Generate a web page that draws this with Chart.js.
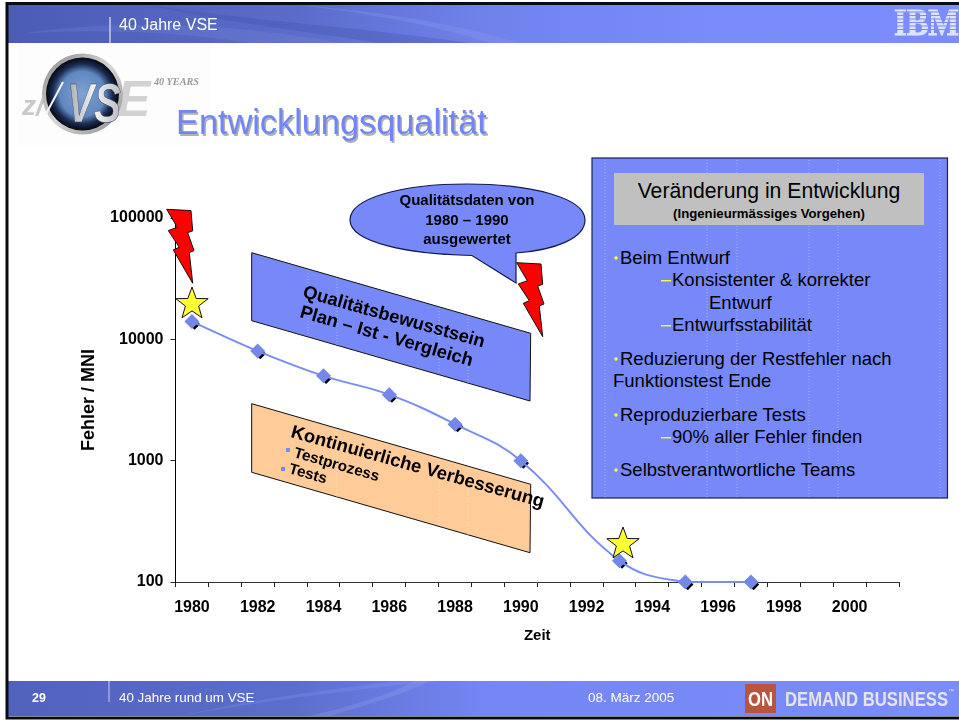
<!DOCTYPE html>
<html><head><meta charset="utf-8">
<style>
html,body{margin:0;padding:0;background:#fff;width:959px;height:721px;overflow:hidden}
#c{position:absolute;left:0;top:0;width:959px;height:721px}
#o{position:absolute;left:0;top:0}
text{font-family:"Liberation Sans",Arial,sans-serif}
</style>
<script src="https://cdn.jsdelivr.net/npm/chart.js@4"></script>
</head><body>
<canvas id="c" width="959" height="721"></canvas>
<svg id="o" width="959" height="721" viewBox="0 0 959 721" xmlns="http://www.w3.org/2000/svg">
<defs>
<linearGradient id="hb" x1="0" x2="1" y1="0" y2="0"><stop offset="0" stop-color="#4a5cb4"/><stop offset=".3" stop-color="#5a6cc8"/><stop offset=".5" stop-color="#6f82ec"/><stop offset=".75" stop-color="#7a8cfa"/><stop offset="1" stop-color="#7b8dfc"/></linearGradient>
<linearGradient id="fb" x1="0" x2="1" y1="0" y2="0"><stop offset="0" stop-color="#5062bc"/><stop offset=".3" stop-color="#5c6ecc"/><stop offset=".5" stop-color="#7386f2"/><stop offset="1" stop-color="#7b8dfc"/></linearGradient>
<radialGradient id="lg" cx=".5" cy=".5" r=".5"><stop offset="0" stop-color="#7fa3d4"/><stop offset=".62" stop-color="#5f88c0"/><stop offset=".82" stop-color="#1a2c50"/><stop offset="1" stop-color="#05080f"/></radialGradient>
<linearGradient id="ring" x1="0" x2="1" y1="0" y2="1"><stop offset="0" stop-color="#8a8a8a"/><stop offset=".5" stop-color="#d6d6d6"/><stop offset="1" stop-color="#8c8c8c"/></linearGradient>
<linearGradient id="vs" x1="0" x2="1" y1="0" y2="0"><stop offset="0" stop-color="#a4a7b0"/><stop offset=".5" stop-color="#f4f4f6"/><stop offset="1" stop-color="#b8bbc2"/></linearGradient>
<path id="bolt" d="M516.7 262.7L541 264L542.7 284.3L537.7 286L544 304L539.3 306L542.7 336.7L523.3 303.3L529.3 300.7L518.3 284L527.3 280.7Z"/>
<polygon id="star" points="0,-17 4.2,-5.5 16.2,-5.3 6.6,2 10,13.8 0,6.9 -10,13.8 -6.6,2 -16.2,-5.3 -4.2,-5.5"/>
</defs>

<!-- header band -->
<rect x="7" y="5" width="952" height="38" fill="url(#hb)"/>
<path d="M150 5C260 22 350 26 470 43L380 43C300 30 220 22 150 5Z" fill="#3f4fa4" opacity=".3"/>
<path d="M20 34C120 18 240 24 340 43L250 43C180 32 90 28 20 34Z" fill="#7f90e0" opacity=".22"/>
<path d="M300 5C380 12 450 22 520 43L490 43C430 24 370 14 300 5Z" fill="#8a9af0" opacity=".3"/>
<line x1="110" y1="17" x2="110" y2="43" stroke="#c8cdee" stroke-width="1.5"/>
<text x="119" y="30" font-size="16" fill="#fff">40 Jahre VSE</text>
<text x="894" y="34.5" font-size="37" font-weight="700" textLength="65" lengthAdjust="spacingAndGlyphs" style='font-family:"Liberation Serif",serif' fill="#dfe3fb" stroke="#dfe3fb" stroke-width=".9">IBM</text>
<g fill="#7b8dfc"><rect x="892" y="11.5" width="67" height="1"/><rect x="892" y="15" width="67" height="1"/><rect x="892" y="18.5" width="67" height="1"/><rect x="892" y="22" width="67" height="1"/><rect x="892" y="25.5" width="67" height="1"/><rect x="892" y="29" width="67" height="1"/></g>

<!-- logo -->
<rect x="17" y="43" width="193" height="102" fill="#fdfdfd"/>
<text x="22" y="115" font-size="28" font-style="italic" font-weight="700" fill="#c9c9c9">z/</text>
<text x="117" y="116" font-size="50" font-style="italic" font-weight="700" fill="#d2d2d2">E</text>
<circle cx="82.5" cy="94" r="40.5" fill="url(#ring)"/>
<circle cx="82.5" cy="94" r="36.5" fill="url(#lg)"/>
<text x="67" y="122" font-size="56" font-style="italic" font-weight="700" textLength="54" lengthAdjust="spacingAndGlyphs" fill="url(#vs)" stroke="#3a3f4c" stroke-width=".5">VS</text>
<line x1="46" y1="114" x2="63" y2="82" stroke="#f4f4f4" stroke-width="2"/>
<text x="154" y="85" font-size="9.5" font-style="italic" font-weight="700" fill="#9a9a9a" textLength="45" lengthAdjust="spacingAndGlyphs" style='font-family:"Liberation Serif",serif'>40 YEARS</text>

<!-- title -->
<text x="177.5" y="135.5" font-size="34.3" fill="#b0b0b0">Entwicklungsqualität</text>
<text x="176" y="134" font-size="34.3" fill="#7086f6">Entwicklungsqualität</text>

<!-- left bands -->
<polygon points="251.7,252.7 530.7,333.3 530,401 251.7,320.7" fill="#7788f8" stroke="#111" stroke-width="1"/>
<g stroke="#fff" stroke-opacity=".35" stroke-dasharray="1 2" stroke-width="1"><line x1="308" y1="270" x2="308" y2="336"/><line x1="337" y1="278" x2="337" y2="345"/><line x1="439" y1="308" x2="439" y2="374"/><line x1="468" y1="316" x2="468" y2="383"/></g>
<polygon points="251.7,403.7 530.7,484.3 530,552.7 251.7,472.3" fill="#ffcc99" stroke="#111" stroke-width="1"/>
<g stroke="#fff" stroke-opacity=".5" stroke-dasharray="1 2" stroke-width="1"><line x1="337" y1="430" x2="337" y2="497"/><line x1="439" y1="460" x2="439" y2="526"/><line x1="468" y1="468" x2="468" y2="535"/></g>

<g font-weight="700" fill="#000">
<text transform="translate(302,297) rotate(15.6)" font-size="18.3">Qualitätsbewusstsein</text>
<text transform="translate(299,317) rotate(16)" font-size="18.4">Plan – Ist - Vergleich</text>
<text transform="translate(290,437) rotate(15.6)" font-size="18.5">Kontinuierliche Verbesserung</text>
<text transform="translate(293,457) rotate(16)" font-size="15.3">Testprozess</text>
<text transform="translate(288,473) rotate(16)" font-size="15.3">Tests</text>
</g>
<rect x="286" y="448" width="4" height="4" fill="#7788f8"/>
<rect x="281" y="467" width="4" height="4" fill="#7788f8"/>

<!-- callout -->
<path d="M472 255.5C410 254 350 243 350 220C350 198 402 184 467 184C532 184 585 198 585 220C585 238 556 250 516 253L516 283Z" fill="#7788f8" stroke="#141a50" stroke-width="1.2"/>
<g font-weight="700" font-size="15" text-anchor="middle" fill="#000">
<text x="467" y="205">Qualitätsdaten von</text>
<text x="467" y="225">1980 – 1990</text>
<text x="467" y="244">ausgewertet</text>
</g>

<!-- bolts, stars -->
<use href="#bolt" fill="#ff0000" stroke="#111" stroke-width="1"/>
<use href="#bolt" transform="translate(-350,-53.4)" fill="#ff0000" stroke="#111" stroke-width="1"/>
<use href="#star" transform="translate(192,304)" fill="#ffff33" stroke="#111" stroke-width="1"/>
<use href="#star" transform="translate(623,544)" fill="#ffff33" stroke="#111" stroke-width="1"/>

<!-- right box -->
<rect x="592" y="158" width="355.5" height="340" fill="#7788f8" stroke="#1a2050" stroke-width="1.2"/>
<g stroke="#fff" stroke-opacity=".35" stroke-dasharray="1 2"><line x1="605" y1="160" x2="605" y2="497"/><line x1="707" y1="160" x2="707" y2="497"/><line x1="737" y1="160" x2="737" y2="497"/><line x1="809" y1="160" x2="809" y2="497"/><line x1="838" y1="160" x2="838" y2="497"/><line x1="940" y1="160" x2="940" y2="497"/></g>
<rect x="614" y="173" width="310" height="52" fill="#c0c0c0"/>
<text x="769" y="198" font-size="21.2" text-anchor="middle" fill="#000">Veränderung in Entwicklung</text>
<text x="769" y="218" font-size="13.2" font-weight="700" text-anchor="middle" fill="#000">(Ingenieurmässiges Vorgehen)</text>
<g font-size="18.5" fill="#000">
<text x="620" y="264">Beim Entwurf</text>
<text x="672" y="286">Konsistenter &amp; korrekter</text>
<text x="709" y="309">Entwurf</text>
<text x="672" y="331">Entwurfsstabilität</text>
<text x="620" y="365">Reduzierung der Restfehler nach</text>
<text x="613" y="387">Funktionstest Ende</text>
<text x="620" y="421">Reproduzierbare Tests</text>
<text x="672" y="443">90% aller Fehler finden</text>
<text x="620" y="476">Selbstverantwortliche Teams</text>
</g>
<g fill="#ffff33"><circle cx="616" cy="258" r="1.7"/><circle cx="616" cy="359" r="1.7"/><circle cx="616" cy="415" r="1.7"/><circle cx="616" cy="470" r="1.7"/><rect x="661" y="280" width="10" height="1.4"/><rect x="661" y="325" width="10" height="1.4"/><rect x="661" y="437" width="10" height="1.4"/></g>

<!-- footer -->
<rect x="7" y="681" width="952" height="35" fill="url(#fb)"/>
<path d="M180 716C270 700 350 690 440 681L400 681C320 690 240 702 180 716Z" fill="#8a9af0" opacity=".25"/>
<path d="M330 716C370 704 410 692 430 681L415 681C395 692 360 704 310 716Z" fill="#9aa8f4" opacity=".25"/>
<line x1="109" y1="681" x2="109" y2="702" stroke="#c8cdee" stroke-width="1"/>
<text x="32" y="702" font-size="12.5" font-weight="700" fill="#fff">29</text>
<text x="119" y="702" font-size="13.4" fill="#fff">40 Jahre rund um VSE</text>
<text x="588" y="702" font-size="13.5" fill="#fff">08. März 2005</text>
<rect x="745" y="684" width="31" height="29" fill="#b8553a"/>
<text x="748" y="706" font-size="20" font-weight="700" textLength="25" lengthAdjust="spacingAndGlyphs" fill="#fff">ON</text>
<text x="785" y="706" font-size="20" font-weight="700" textLength="163" lengthAdjust="spacingAndGlyphs" fill="#e4e4e8">DEMAND BUSINESS</text>
<text x="948" y="693" font-size="6" fill="#e4e4e8">™</text>

<!-- frame -->
<rect x="7" y="3.5" width="960" height="714.5" fill="none" stroke="#0a0a14" stroke-width="3"/>
</svg>
<script>
const years = ["1980","1981","1982","1983","1984","1985","1986","1987","1988","1989","1990","1991","1992","1993","1994","1995","1996","1997","1998","1999","2000","2001"];
const errors = [14000,null,8000,null,5000,null,3500,null,2000,null,1000,null,null,150,null,100,null,100,null,null,null,null];
const yTicks = [100,1000,10000,100000];
const seriesName = "Fehler / MNI";
const yTitle = "Fehler / MNI";
const xTitle = "Zeit";

const FONT = '"Liberation Sans", Arial, sans-serif';
const AREA = {left:175.5, right:899, top:218, bottom:582};
const PAD_LEFT = 78, PAD_BOTTOM = 76;

const markerShadow = {
  id:'markerShadow',
  beforeDatasetsDraw(chart){
    const ctx = chart.ctx;
    chart.getDatasetMeta(0).data.forEach((p,i)=>{
      if(errors[i]==null) return;
      ctx.save();
      ctx.fillStyle='#000';
      ctx.beginPath();
      const cx=p.x+2.6, cy=p.y+2.6, r=5.6;
      ctx.moveTo(cx,cy-r);ctx.lineTo(cx+r,cy);ctx.lineTo(cx,cy+r);ctx.lineTo(cx-r,cy);ctx.closePath();
      ctx.fill();
      ctx.restore();
    });
  }
};

new Chart(document.getElementById('c'),{
  type:'line',
  data:{labels:years,datasets:[{
    label:seriesName,data:errors,spanGaps:true,
    borderColor:'#7b8cf4',borderWidth:2,tension:0.42,
    pointStyle:'rectRot',pointRadius:7.5,pointHoverRadius:7.5,
    pointBackgroundColor:'#7388e8',pointBorderColor:'#7388e8',pointBorderWidth:0,
    clip:false
  }]},
  plugins:[markerShadow],
  options:{
    responsive:false,animation:false,
    layout:{padding:{left:PAD_LEFT,right:959-AREA.right,top:AREA.top,bottom:PAD_BOTTOM}},
    plugins:{legend:{display:false},title:{display:false},tooltip:{enabled:false}},
    scales:{
      x:{
        type:'category',offset:true,
        grid:{drawOnChartArea:false,offset:true,tickLength:5,color:'#222',drawTicks:true},
        border:{color:'#333',width:1},
        ticks:{autoSkip:false,maxRotation:0,minRotation:0,padding:11,color:'#000',
          font:{family:FONT,size:16,weight:'700'},
          callback(v,i){return i%2===0?years[i]:'';}},
        title:{display:true,text:xTitle,color:'#000',font:{family:FONT,size:15,weight:'700'},padding:0},
        afterFit(s){s.height=721-PAD_BOTTOM-AREA.bottom;}
      },
      y:{
        type:'logarithmic',min:100,max:100000,
        afterBuildTicks(s){s.ticks=yTicks.map(v=>({value:v}));},
        grid:{drawOnChartArea:false,tickLength:5,color:'#222'},
        border:{color:'#000',width:1},
        ticks:{padding:7,color:'#000',font:{family:FONT,size:16,weight:'700'},autoSkip:false,
          callback(v){return String(v);}},
        title:{display:true,text:yTitle,color:'#000',font:{family:FONT,size:18,weight:'700'},padding:0},
        afterFit(s){s.width=AREA.left-PAD_LEFT;}
      }
    }
  }
});
</script>
</body></html>
